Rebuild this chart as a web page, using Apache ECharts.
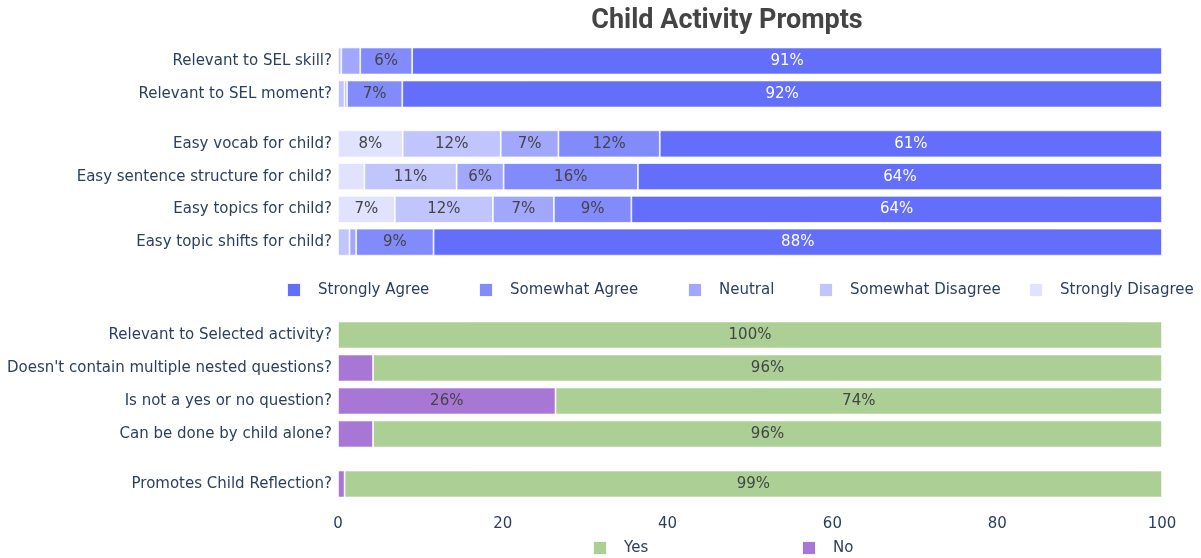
<!DOCTYPE html>
<html>
<head>
<meta charset="utf-8">
<script src="https://cdn.jsdelivr.net/npm/echarts@6/dist/echarts.min.js"></script>
<style>
html,body{margin:0;padding:0;background:#fff;}
#chart{width:1201px;height:558px;}
</style>
</head>
<body>
<div id="chart"></div>
<script>
// ---- Data ----
const selCategories = ['Relevant to SEL skill?', 'Relevant to SEL moment?'];
const easeCategories = ['Easy vocab for child?', 'Easy sentence structure for child?', 'Easy topics for child?', 'Easy topic shifts for child?'];
const checkCategories = ['Relevant to Selected activity?', "Doesn't contain multiple nested questions?", 'Is not a yes or no question?', 'Can be done by child alone?'];
const reflectCategories = ['Promotes Child Reflection?'];

const likertLevels = ['Strongly Disagree', 'Somewhat Disagree', 'Neutral', 'Somewhat Agree', 'Strongly Agree'];
const likertLegendOrder = ['Strongly Agree', 'Somewhat Agree', 'Neutral', 'Somewhat Disagree', 'Strongly Disagree'];

// SEL group (percent)
const selStronglyDisagree = [0, 0];
const selSomewhatDisagree = [0.4, 0.8];
const selNeutral = [2.3, 0.3];
const selSomewhatAgree = [6.3, 6.7];
const selStronglyAgree = [91.0, 92.2];

// Ease group (percent)
const easeStronglyDisagree = [7.85, 3.2, 6.9, 0];
const easeSomewhatDisagree = [11.9, 11.2, 11.9, 1.4];
const easeNeutral = [7.0, 5.7, 7.4, 0.8];
const easeSomewhatAgree = [12.3, 16.3, 9.4, 9.4];
const easeStronglyAgree = [60.95, 63.6, 64.4, 88.4];

// Yes / No groups (percent)
const checkNo = [0, 4.25, 26.4, 4.25];
const checkYes = [100, 95.75, 73.6, 95.75];
const reflectNo = [0.8];
const reflectYes = [99.2];

const xTicks = [0, 20, 40, 60, 80, 100];

// ---- Styles ----
const likertColors = {
  'Strongly Disagree': '#e0e2fe',
  'Somewhat Disagree': '#c1c5fd',
  'Neutral': '#a1a8fb',
  'Somewhat Agree': '#828bfb',
  'Strongly Agree': '#636efa'
};
const ynColors = { 'Yes': '#abcf95', 'No': '#a876d4' };
const FONT = 'DejaVu Sans';
const TXT = '#2a3f5f';

const chart = echarts.init(document.getElementById('chart'), null, { renderer: 'canvas' });

const gridDefs = [
  { top: 44.5, height: 66 },
  { top: 127.5, height: 131 },
  { top: 318.5, height: 132 },
  { top: 467.5, height: 33 }
];
const grids = gridDefs.map(g => ({ left: 338, right: 39, top: g.top, height: g.height, containLabel: false }));

const xAxes = grids.map((g, i) => ({
  type: 'value', gridIndex: i, min: xTicks[0], max: xTicks[xTicks.length - 1], interval: 20,
  show: i === 3,
  axisLine: { show: false }, axisTick: { show: false }, splitLine: { show: false },
  axisLabel: { show: i === 3, color: TXT, fontFamily: FONT, fontSize: 15, margin: 16 }
}));

const catLists = [selCategories, easeCategories, checkCategories, reflectCategories];
const yAxes = catLists.map((c, i) => ({
  type: 'category', gridIndex: i, data: c, inverse: true,
  axisLine: { show: false }, axisTick: { show: false }, splitLine: { show: false },
  axisLabel: { color: TXT, fontFamily: FONT, fontSize: 15, margin: 6 }
}));

function labelFmt(p) {
  return p.value >= 5 ? Math.round(p.value) + '%' : '';
}

function makeSeries(name, data, gridIdx, color, labelColor, stack) {
  return {
    name: name, type: 'bar', stack: stack, data: data,
    xAxisIndex: gridIdx, yAxisIndex: gridIdx,
    barWidth: 27,
    itemStyle: { color: color, borderColor: 'rgba(255,255,255,0.9)', borderWidth: 0.8 },
    label: { show: true, position: 'inside', formatter: labelFmt, color: labelColor, fontFamily: FONT, fontSize: 15 },
    emphasis: { disabled: true },
    animation: false
  };
}

const selData = {
  'Strongly Disagree': selStronglyDisagree, 'Somewhat Disagree': selSomewhatDisagree,
  'Neutral': selNeutral, 'Somewhat Agree': selSomewhatAgree, 'Strongly Agree': selStronglyAgree
};
const easeData = {
  'Strongly Disagree': easeStronglyDisagree, 'Somewhat Disagree': easeSomewhatDisagree,
  'Neutral': easeNeutral, 'Somewhat Agree': easeSomewhatAgree, 'Strongly Agree': easeStronglyAgree
};

const series = [];
likertLevels.forEach(l => series.push(makeSeries(l, selData[l], 0, likertColors[l], l === 'Strongly Agree' ? '#ffffff' : '#444444', 'sel')));
likertLevels.forEach(l => series.push(makeSeries(l, easeData[l], 1, likertColors[l], l === 'Strongly Agree' ? '#ffffff' : '#444444', 'ease')));
series.push(makeSeries('No', checkNo, 2, ynColors['No'], '#444444', 'check'));
series.push(makeSeries('Yes', checkYes, 2, ynColors['Yes'], '#444444', 'check'));
series.push(makeSeries('No', reflectNo, 3, ynColors['No'], '#444444', 'reflect'));
series.push(makeSeries('Yes', reflectYes, 3, ynColors['Yes'], '#444444', 'reflect'));

// Legends placed per item
const likertLegendLeft = [286, 478, 687, 818, 1028];
const ynLegendNames = ['Yes', 'No'];
const ynLegendLeft = [592, 801];
function legendItem(name, left, top) {
  return {
    data: [name], left: left, top: top, icon: 'rect', itemWidth: 14, itemHeight: 14,
    selectedMode: false, padding: 0, itemGap: 0,
    textStyle: { color: TXT, fontFamily: FONT, fontSize: 15, padding: [0, 0, 0, 12] }
  };
}
const legends = [];
likertLegendOrder.forEach((n, i) => legends.push(legendItem(n, likertLegendLeft[i], 282)));
ynLegendNames.forEach((n, i) => legends.push(legendItem(n, ynLegendLeft[i], 540)));

chart.setOption({
  backgroundColor: '#ffffff',
  animation: false,
  title: {
    text: 'Child Activity Prompts', left: 722, top: 3, textAlign: 'center',
    textStyle: { fontFamily: 'Roboto', fontWeight: 'bold', fontSize: 27, color: '#444444' }
  },
  grid: grids,
  xAxis: xAxes,
  yAxis: yAxes,
  legend: legends,
  series: series
});
</script>
</body>
</html>
